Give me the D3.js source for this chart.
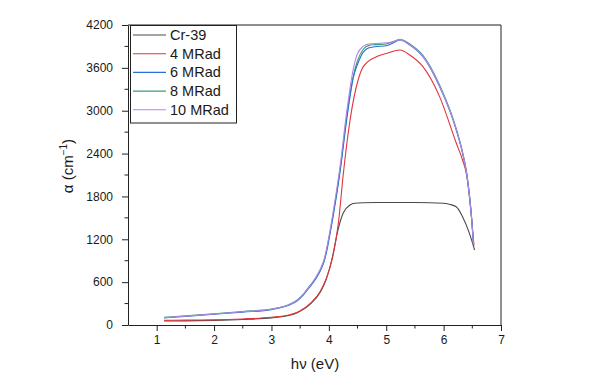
<!DOCTYPE html>
<html><head><meta charset="utf-8">
<script src="https://cdn.jsdelivr.net/npm/d3@7"></script>
<style>html,body{margin:0;padding:0;background:#fff;}svg{display:block;font-family:"Liberation Sans",Arial,sans-serif;}</style>
</head><body><svg id="c" width="612" height="381"></svg>
<script>
const seriesNames = ["Cr-39", "4 MRad", "6 MRad", "8 MRad", "10 MRad"];
const seriesColors = ["#4a4a4a", "#e0353b", "#2a6fd4", "#3a9e78", "#b388e0"];
const xTicks = [1, 2, 3, 4, 5, 6, 7];
const yTicks = [0, 600, 1200, 1800, 2400, 3000, 3600, 4200];

const hvCr39 = [1.13,1.5,2.0,2.5,3.0,3.3,3.45,3.55,3.62,3.7,3.85,3.95,4.07,4.15,4.25,4.37,4.45,4.6,5.0,5.5,6.0,6.1,6.22,6.33,6.45,6.54];
const aCr39  = [55,58,65,78,100,132,172,215,255,310,460,630,980,1300,1568,1680,1705,1712,1715,1715,1705,1690,1656,1516,1283,1050];

const hv4 = [1.13,1.5,2.0,2.5,3.0,3.3,3.45,3.55,3.62,3.7,3.85,3.95,4.07,4.17,4.25,4.37,4.51,4.6,4.83,5.0,5.24,5.41,5.64,5.93,6.22,6.33,6.4,6.49,6.53];
const a4  = [65,68,72,85,108,140,180,225,265,320,470,640,960,1450,2100,2870,3430,3617,3757,3800,3850,3780,3617,3197,2548,2310,2100,1470,1110];

const hv6 = [1.13,1.5,2.0,2.5,3.0,3.3,3.45,3.55,3.62,3.7,3.78,3.85,3.92,3.96,4.02,4.07,4.2,4.31,4.43,4.5,4.6,4.7,4.8,5.0,5.1,5.24,5.41,5.64,5.93,6.22,6.33,6.4,6.49,6.52];
const a6  = [100,120,150,180,215,275,340,415,485,565,655,755,895,1025,1275,1500,2170,2870,3477,3650,3820,3880,3895,3910,3940,3990,3920,3757,3337,2730,2405,2128,1470,1130];

const hv8 = [1.13,1.5,2.0,2.5,3.0,3.3,3.45,3.55,3.62,3.7,3.78,3.85,3.92,3.96,4.02,4.07,4.2,4.31,4.43,4.5,4.6,4.7,4.8,5.0,5.1,5.24,5.41,5.64,5.93,6.22,6.33,6.4,6.49,6.52];
const a8  = [108,128,158,190,225,285,352,428,500,580,672,775,915,1045,1295,1520,2200,2900,3500,3700,3860,3915,3925,3935,3960,4000,3935,3775,3360,2750,2420,2140,1480,1140];

const hv10 = [1.13,1.5,2.0,2.5,3.0,3.3,3.45,3.55,3.62,3.7,3.78,3.85,3.92,3.96,4.02,4.07,4.2,4.31,4.43,4.5,4.6,4.7,4.9,5.1,5.24,5.41,5.64,5.93,6.22,6.33,6.4,6.49,6.52];
const a10  = [104,124,154,186,220,282,348,425,498,580,675,780,925,1065,1320,1560,2250,2980,3600,3800,3900,3935,3945,3960,3995,3925,3765,3345,2740,2410,2130,1470,1130];

const series = [[hvCr39,aCr39],[hv4,a4],[hv6,a6],[hv8,a8],[hv10,a10]];

const svg = d3.select("#c");
const L = 128, R = 501, T = 25, B = 325;
const x = d3.scaleLinear().domain([0.5, 7]).range([L, R]);
const y = d3.scaleLinear().domain([0, 4200]).range([B, T]);

svg.append("line").attr("x1", L).attr("x2", R).attr("y1", T).attr("y2", T).attr("stroke", "#6a6a6a").attr("stroke-width", 1.5);
svg.append("line").attr("x1", R).attr("x2", R).attr("y1", T).attr("y2", B).attr("stroke", "#222").attr("stroke-width", 1);

const xMinor = [1.5, 2.5, 3.5, 4.5, 5.5, 6.5];
const yMinor = [300, 900, 1500, 2100, 2700, 3300, 3900];
svg.append("g").selectAll("line").data(xMinor).join("line")
  .attr("x1", d => x(d)).attr("x2", d => x(d)).attr("y1", B).attr("y2", B + 3.5).attr("stroke", "#222");
svg.append("g").selectAll("line").data(yMinor).join("line")
  .attr("x1", L - 3.5).attr("x2", L).attr("y1", d => y(d)).attr("y2", d => y(d)).attr("stroke", "#222");

const xa = svg.append("g").attr("transform", `translate(0,${B})`)
  .call(d3.axisBottom(x).tickValues(xTicks).tickFormat(d3.format("d")).tickSize(6).tickPadding(4).tickSizeOuter(0));
const ya = svg.append("g").attr("transform", `translate(${L},0)`)
  .call(d3.axisLeft(y).tickValues(yTicks).tickFormat(d3.format("d")).tickSize(6).tickPadding(9).tickSizeOuter(0));
[xa, ya].forEach(g => {
  g.select(".domain").attr("stroke", "#222");
  g.selectAll(".tick line").attr("stroke", "#222");
  g.selectAll(".tick text").attr("font-size", 12).attr("fill", "#1a1a1a").attr("font-family", "Liberation Sans, Arial, sans-serif");
});

const line = d3.line().x(d => x(d[0])).y(d => y(d[1])).curve(d3.curveMonotoneX);
[0, 1, 3, 2, 4].forEach(i => {
  const [hv, a] = series[i];
  svg.append("path").datum(hv.map((v, k) => [v, a[k]]))
    .attr("d", line).attr("fill", "none").attr("stroke", seriesColors[i]).attr("stroke-width", 1.1);
});

const lg = svg.append("g");
lg.append("rect").attr("x", 130.5).attr("y", 25.5).attr("width", 106).attr("height", 97.5)
  .attr("fill", "#fff").attr("stroke", "#222").attr("stroke-width", 1);
seriesNames.forEach((n, i) => {
  const yy = 35 + i * 18.7;
  lg.append("line").attr("x1", 133).attr("x2", 166).attr("y1", yy).attr("y2", yy).attr("stroke", seriesColors[i]).attr("stroke-width", 1.1);
  lg.append("text").attr("x", 170).attr("y", yy + 5).attr("font-size", 14.5).attr("fill", "#1a1a1a").text(n);
});

svg.append("text").attr("x", 315).attr("y", 369).attr("text-anchor", "middle").attr("font-size", 15).attr("fill", "#1a1a1a").text("hν (eV)");
const yt = svg.append("text").attr("transform", "translate(73,166) rotate(-90)").attr("text-anchor", "middle").attr("font-size", 15).attr("fill", "#1a1a1a");
yt.append("tspan").text("α (cm");
yt.append("tspan").attr("font-size", 10).attr("dy", -6).text("−1");
yt.append("tspan").attr("dy", 6).text(")");
</script></body></html>
